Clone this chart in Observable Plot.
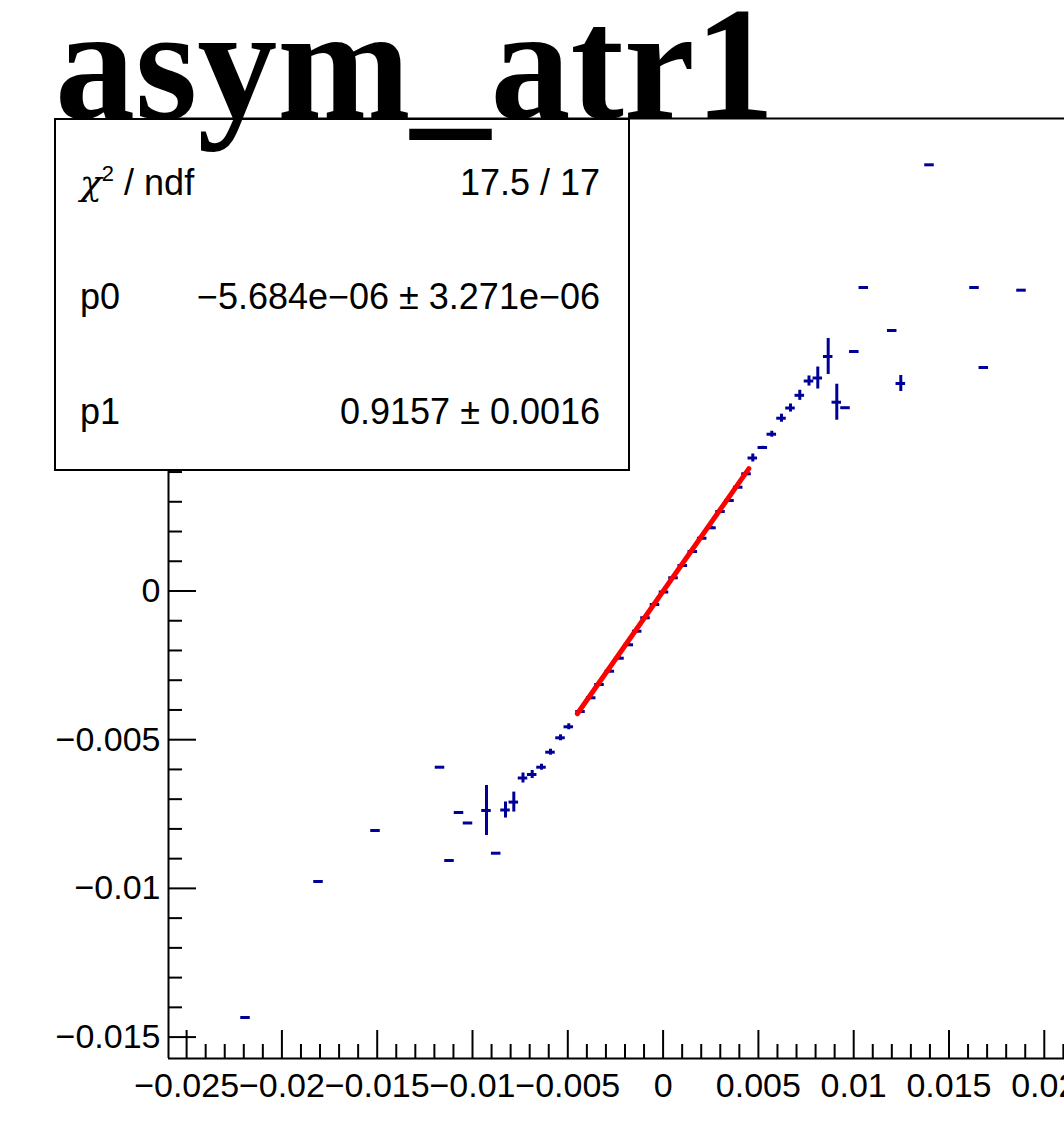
<!DOCTYPE html>
<html>
<head>
<meta charset="utf-8">
<script src="https://cdn.jsdelivr.net/npm/d3@7"></script>
<script src="https://cdn.jsdelivr.net/npm/@observablehq/plot@0.6"></script>
<style>
html, body { margin: 0; padding: 0; background: #fff; overflow: hidden; width: 1064px; height: 1128px; }
#wrap { position: relative; width: 1064px; height: 1128px; overflow: hidden; }
#chart { position: absolute; left: 0; top: 0; }
#stats { position: absolute; left: 54px; top: 118px; width: 576px; height: 353px; box-sizing: border-box;
  border: 2px solid #000; background: #fff; font-family: "Liberation Sans", Arial, sans-serif; font-size: 36px; color: #000; }
.row { position: absolute; left: 24px; right: 28px; height: 36px; line-height: 36px; white-space: nowrap; }
.row .k { position: absolute; left: 0; }
.row .v { position: absolute; right: 0; }
.row sup { font-size: 22px; vertical-align: 0; position: relative; top: -14px; }
.chi { font-family: "DejaVu Serif", "Liberation Serif", serif; font-style: italic; }
#title { position: absolute; left: 55px; top: 0px; font-family: "Liberation Serif", "Times New Roman", serif;
  font-weight: bold; font-size: 160px; line-height: 128px; height: 128px; white-space: nowrap; color: #000; }
</style>
</head>
<body>
<div id="wrap">
  <div id="chart"></div>
  <div id="stats"></div>
  <div id="title"></div>
</div>
<script>
// ---- data ----
const titleText = "asym_atr1";

// profile bin centres (x), mean values (y) and y errors
const xs = [
  -0.021910, -0.018080, -0.015089, -0.011705, -0.011207, -0.010708, -0.010236, -0.009266, -0.008757,
  -0.008269, -0.007833, -0.007351, -0.006868, -0.006380, -0.005908, -0.005383, -0.004948, -0.004334,
  -0.003772, -0.003337, -0.002796, -0.002288, -0.001800, -0.001359, -0.000923, -0.000425, 0.000047,
  0.000546, 0.001034, 0.001558, 0.002051, 0.002539, 0.003012, 0.003484, 0.003940, 0.004376,
  0.004706, 0.005231, 0.005703, 0.006212, 0.006684, 0.007172, 0.007655, 0.008116, 0.008662,
  0.009113, 0.009570, 0.010032, 0.010530, 0.012020, 0.012471, 0.013977, 0.016338, 0.016826, 0.018804
];
const ys = [
  -0.014341, -0.009768, -0.008053, -0.005925, -0.009062, -0.007448, -0.007801, -0.007381, -0.008817,
  -0.007364, -0.007098, -0.006288, -0.006170, -0.005925, -0.005420, -0.004936, -0.004566, -0.004052,
  -0.003591, -0.003144, -0.002697, -0.002260, -0.001809, -0.001352, -0.000901, -0.000454, -0.000034,
  0.000444, 0.000857, 0.001328, 0.001775, 0.002125, 0.002673, 0.003043, 0.003490, 0.003941,
  0.004472, 0.004825, 0.005272, 0.005810, 0.006153, 0.006580, 0.007061, 0.007162, 0.007885,
  0.006348, 0.006163, 0.008053, 0.010205, 0.008759, 0.006977, 0.014331, 0.010205, 0.007515, 0.010115
];
const yErrs = [
  0, 0, 0, 0, 0, 0, 0, 0.00084, 0,
  0.00027, 0.000336, 0.000168, 0.000135, 0.0001, 0.0001, 0.0001, 0.0001, 0.00005,
  0.00005, 0.00005, 0.00005, 0.00005, 0.00005, 0.00005, 0.00005, 0.00005, 0.00005,
  0.00005, 0.00005, 0.00005, 0.00005, 0.00005, 0.00005, 0.00005, 0.00005, 0.00005,
  0.000135, 0.00004, 0.0001, 0.000135, 0.000135, 0.00017, 0.00017, 0.00037, 0.000605,
  0.000605, 0, 0, 0, 0, 0.00027, 0, 0, 0, 0
];
const binHalfWidth = 0.00025;

// fit y = p0 + p1*x drawn over its fit range
const fitX = [-0.0045, 0.0045];
const fitY = [-0.004126, 0.004115];

// stats box
const statLabels = ["χ<sup>2</sup> / ndf", "p0", "p1"];
const statValues = ["17.5 / 17", "−5.684e−06 ± 3.271e−06", "0.9157 ± 0.0016"];

// axes
const xTickValues = [-0.025, -0.02, -0.015, -0.01, -0.005, 0, 0.005, 0.01, 0.015, 0.02];
const xTickLabels = ["−0.025", "−0.02", "−0.015", "−0.01", "−0.005", "0", "0.005", "0.01", "0.015", "0.02"];
const yTickValues = [-0.015, -0.01, -0.005, 0, 0.005, 0.01, 0.015];
// labels visible in the picture (the upper ones sit under the stats box)
const yLabelValues = [-0.015, -0.01, -0.005, 0];
const yTickLabels = ["−0.015", "−0.01", "−0.005", "0"];
const xMin = -0.02595, xMax = 0.02106;
const yMin = -0.01572, yMax = 0.015888;

// ---- layout ----
const W = 1064, H = 1128, mL = 168, mR = 0, mT = 118, mB = 70;
const xPerPx = (xMax - xMin) / (W - mL - mR);
const yPerPx = (yMax - yMin) / (H - mT - mB);
const majorLen = 28, minorLen = 14;
const blue = "#000099";

const points = xs.map((x, i) => ({x, y: ys[i], e: yErrs[i]}));
const fit = fitX.map((x, i) => ({x, y: fitY[i]}));

const isMajor = v => Math.abs(v / 0.005 - Math.round(v / 0.005)) < 1e-6;
const xMinor = d3.range(-25, 22).map(k => k / 1000).filter(v => !isMajor(v));
const yMinor = d3.range(-15, 16).map(k => k / 1000).filter(v => !isMajor(v));

const chart = Plot.plot({
  width: W, height: H,
  marginLeft: mL, marginRight: mR, marginTop: mT, marginBottom: mB,
  style: {background: "transparent", fontFamily: "'Liberation Sans', Arial, sans-serif", fontSize: "34px", color: "#000", overflow: "hidden"},
  x: {domain: [xMin, xMax]},
  y: {domain: [yMin, yMax]},
  marks: [
    // ticks (ROOT style, inward)
    Plot.ruleX(xMinor, {x: d => d, y1: yMin, y2: yMin + minorLen * yPerPx, stroke: "#000", strokeWidth: 2}),
    Plot.ruleX(xTickValues, {x: d => d, y1: yMin, y2: yMin + majorLen * yPerPx, stroke: "#000", strokeWidth: 2}),
    Plot.ruleY(yMinor, {y: d => d, x1: xMin, x2: xMin + minorLen * xPerPx, stroke: "#000", strokeWidth: 2}),
    Plot.ruleY(yTickValues, {y: d => d, x1: xMin, x2: xMin + majorLen * xPerPx, stroke: "#000", strokeWidth: 2}),
    Plot.axisX({ticks: xTickValues, tickSize: 0, tickPadding: 14, label: null,
      tickFormat: d => xTickLabels[xTickValues.indexOf(d)]}),
    Plot.axisY({ticks: yLabelValues, tickSize: 0, tickPadding: 8, label: null,
      tickFormat: d => yTickLabels[yLabelValues.indexOf(d)]}),
    // frame lines
    Plot.ruleY([yMax], {stroke: "#000", strokeWidth: 2}),
    Plot.ruleY([yMin], {stroke: "#000", strokeWidth: 2}),
    Plot.ruleX([xMin], {stroke: "#000", strokeWidth: 2}),
    // profile points: bin-width bars and y error bars
    Plot.ruleY(points, {y: "y", x1: d => d.x - binHalfWidth, x2: d => d.x + binHalfWidth, stroke: blue, strokeWidth: 3}),
    Plot.ruleX(points.filter(d => d.e > 0), {x: "x", y1: d => d.y - d.e, y2: d => d.y + d.e, stroke: blue, strokeWidth: 3}),
    // fit
    Plot.line(fit, {x: "x", y: "y", stroke: "#ff0000", strokeWidth: 5})
  ]
});
document.getElementById("chart").appendChild(chart);

// stats box
const rowCenters = [45, 159, 274];
const stats = document.getElementById("stats");
statLabels.forEach((lab, i) => {
  const row = document.createElement("div");
  row.className = "row";
  row.style.top = rowCenters[i] + "px";
  const lbl = i === 0 ? lab.replace("χ", '<span class="chi">χ</span>') : lab;
  row.innerHTML = `<span class="k">${lbl}</span><span class="v">${statValues[i]}</span>`;
  stats.appendChild(row);
});
document.getElementById("title").textContent = titleText;
</script>
</body>
</html>
